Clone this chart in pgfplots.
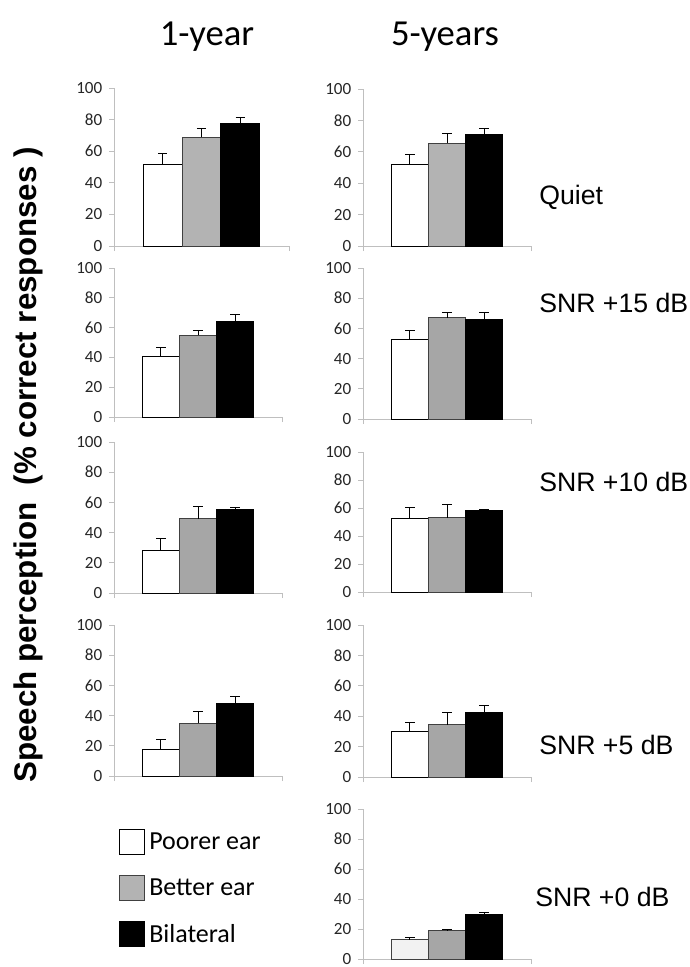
\documentclass[border=0pt]{standalone}
\usepackage{pgfplots}
\pgfplotsset{compat=1.18}
\usepackage{fontspec}
\setmainfont{Carlito}
\newfontfamily\arial{Liberation Sans}
\definecolor{axgray}{HTML}{BFBFBF}
\definecolor{gA}{HTML}{B3B3B3}
\definecolor{gB}{HTML}{A6A6A6}
\definecolor{edge}{HTML}{404040}
\definecolor{wLast}{HTML}{F2F2F2}
\pgfplotsset{
 panel/.style={scale only axis, width=126pt, anchor=south west,
  xmin=-0.27, xmax=4.27, ymin=0, ymax=100,
  axis x line=bottom, axis y line=left,
  axis line style={-, draw=axgray, line width=0.75pt},
  ytick={0,20,...,100}, xtick={-0.27,4.27}, xticklabels={},
  tick align=outside, major tick length=3.75pt,
  every tick/.style={draw=axgray, line width=0.75pt},
  yticklabel style={font=\fontsize{12.8}{12.8}\selectfont, text=black!85, xshift=-1.5pt},
  /pgf/number format/assume math mode=true, clip=false},
 bars/.style={ybar, bar width=1, bar shift=0pt, line width=0.75pt,
  /pgfplots/error bars/y dir=plus, /pgfplots/error bars/y explicit,
  /pgfplots/error bars/error bar style={black, line width=0.75pt},
  /pgfplots/error bars/error mark options={black, rotate=90, mark size=3.4pt, line width=0.75pt}},
}
\begin{document}
\begin{tikzpicture}
% Row 1
\begin{axis}[panel, width=131.25pt, height=118.5pt, at={(85.5pt,-184.5pt)}]
\addplot[bars, fill=white, draw=black] coordinates {(1,51.8) +- (0,6.6)};
\addplot[bars, fill=gA, draw=edge] coordinates {(2,68.7) +- (0,5.9)};
\addplot[bars, fill=black, draw=black] coordinates {(3,77.8) +- (0,3.8)};
\end{axis}
\begin{axis}[panel, height=117.75pt, at={(272.25pt,-184.5pt)}]
\addplot[bars, fill=white, draw=black] coordinates {(1,51.9) +- (0,6.6)};
\addplot[bars, fill=gA, draw=edge] coordinates {(2,65.5) +- (0,6.2)};
\addplot[bars, fill=black, draw=black] coordinates {(3,70.9) +- (0,4.0)};
\end{axis}
% Row 2
\begin{axis}[panel, height=111.75pt, at={(85.5pt,-312.75pt)}]
\addplot[bars, fill=white, draw=black] coordinates {(1,40.5) +- (0,6.3)};
\addplot[bars, fill=gB, draw=edge] coordinates {(2,54.8) +- (0,3.2)};
\addplot[bars, fill=black, draw=black] coordinates {(3,64.2) +- (0,4.5)};
\end{axis}
\begin{axis}[panel, height=113.25pt, at={(272.25pt,-314.25pt)}]
\addplot[bars, fill=white, draw=black] coordinates {(1,52.7) +- (0,6.0)};
\addplot[bars, fill=gB, draw=edge] coordinates {(2,67.0) +- (0,3.8)};
\addplot[bars, fill=black, draw=black] coordinates {(3,66.2) +- (0,4.1)};
\end{axis}
% Row 3
\begin{axis}[panel, height=113.25pt, at={(85.5pt,-444.75pt)}]
\addplot[bars, fill=white, draw=black] coordinates {(1,28.1) +- (0,7.9)};
\addplot[bars, fill=gB, draw=edge] coordinates {(2,49.2) +- (0,8.4)};
\addplot[bars, fill=black, draw=black] coordinates {(3,55.4) +- (0,1.1)};
\end{axis}
\begin{axis}[panel, height=105pt, at={(272.25pt,-444pt)}]
\addplot[bars, fill=white, draw=black] coordinates {(1,52.4) +- (0,8.0)};
\addplot[bars, fill=gB, draw=edge] coordinates {(2,53.1) +- (0,9.2)};
\addplot[bars, fill=black, draw=black] coordinates {(3,58.1) +- (0,0.7)};
\end{axis}
% Row 4
\begin{axis}[panel, height=113.25pt, at={(85.5pt,-582pt)}]
\addplot[bars, fill=white, draw=black] coordinates {(1,17.8) +- (0,6.4)};
\addplot[bars, fill=gB, draw=edge] coordinates {(2,35.0) +- (0,8.0)};
\addplot[bars, fill=black, draw=black] coordinates {(3,47.8) +- (0,4.8)};
\end{axis}
\begin{axis}[panel, height=114pt, at={(272.25pt,-582.75pt)}]
\addplot[bars, fill=white, draw=black] coordinates {(1,29.7) +- (0,6.1)};
\addplot[bars, fill=gB, draw=edge] coordinates {(2,34.5) +- (0,7.7)};
\addplot[bars, fill=black, draw=black] coordinates {(3,42.4) +- (0,4.9)};
\end{axis}
% Row 5
\begin{axis}[panel, height=112.5pt, at={(272.25pt,-719.25pt)}]
\addplot[bars, fill=wLast, draw=edge] coordinates {(1,12.8) +- (0,1.7)};
\addplot[bars, fill=gB, draw=edge] coordinates {(2,18.7) +- (0,1.3)};
\addplot[bars, fill=black, draw=black] coordinates {(3,30.0) +- (0,1.3)};
\end{axis}
% Legend
\begin{axis}[hide axis, scale only axis, width=10pt, height=10pt, xmin=0, xmax=1, ymin=0, ymax=1,
  anchor=north west, at={(89.25pt,-621.75pt)},
  legend style={at={(0,1)}, anchor=north west, draw=none, fill=none, inner sep=0pt,
    row sep=15pt, column sep=3pt, font=\fontsize{19.5}{19.5}\selectfont,
    nodes={inner sep=0pt}},
  legend cell align=left,
  legend image code/.code={\draw[#1, line width=0.75pt] (0pt,-9.4pt) rectangle (18.75pt,9.4pt);}]
\addlegendimage{fill=white, draw=black}
\addlegendentry{Poorer ear}
\addlegendimage{fill=gA, draw=edge}
\addlegendentry{Better ear}
\addlegendimage{fill=black, draw=black}
\addlegendentry{Bilateral}
\end{axis}
% Titles and labels
\node[font=\fontsize{27.5}{27.5}\selectfont] at (155.25pt,-27.75pt) {1-year};
\node[font=\fontsize{27.5}{27.5}\selectfont] at (333.75pt,-27.75pt) {5-years};
\node[anchor=west, inner sep=0pt, font=\arial\fontsize{20}{20}\selectfont] at (404.25pt,-147.75pt) {Quiet};
\node[anchor=west, inner sep=0pt, font=\arial\fontsize{20}{20}\selectfont] at (404.25pt,-227.25pt) {SNR +15 dB};
\node[anchor=west, inner sep=0pt, font=\arial\fontsize{20}{20}\selectfont] at (404.25pt,-361.5pt) {SNR +10 dB};
\node[anchor=west, inner sep=0pt, font=\arial\fontsize{20}{20}\selectfont] at (404.25pt,-558.75pt) {SNR +5 dB};
\node[anchor=west, inner sep=0pt, font=\arial\fontsize{20}{20}\selectfont] at (401.25pt,-672.75pt) {SNR +0 dB};
\node[rotate=90, inner sep=0pt, font=\arial\bfseries\fontsize{23.5}{23.5}\selectfont] at (21pt,-348.75pt) {Speech perception\ \ (\% correct responses )};
\pgfresetboundingbox
\path (0pt,0pt) rectangle (516.75pt,-725.25pt);
\end{tikzpicture}
\end{document}
